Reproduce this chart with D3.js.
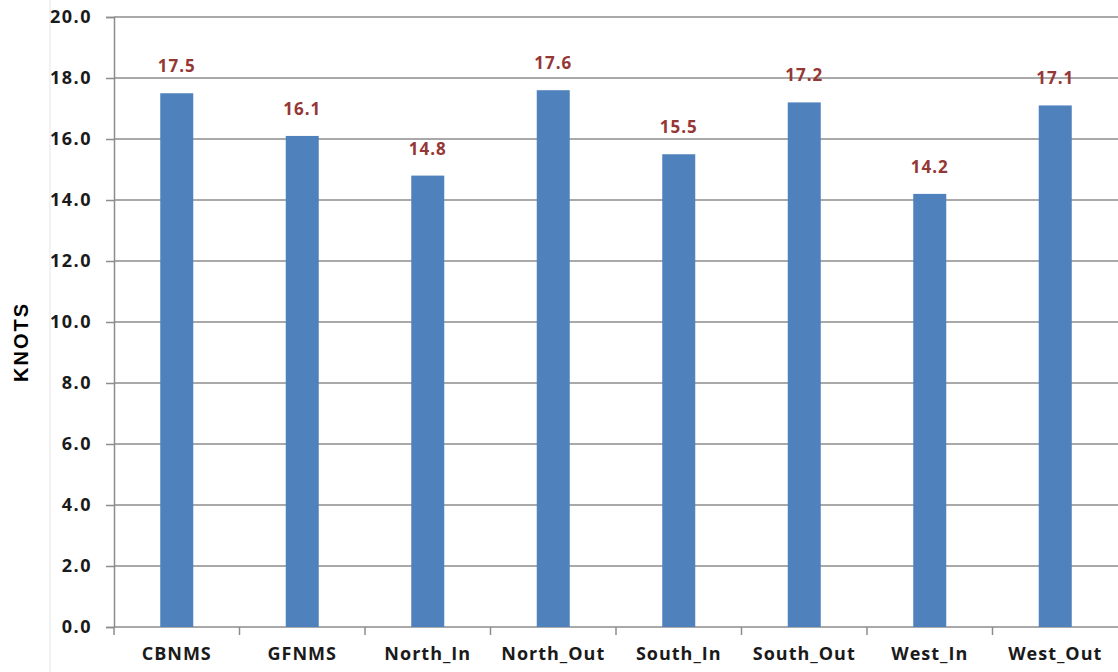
<!DOCTYPE html>
<html>
<head>
<meta charset="utf-8">
<script src="https://cdn.jsdelivr.net/npm/d3@7"></script>
<style>
  body { margin: 0; background: #fff; }
</style>
</head>
<body>
<div class="chart"></div>
<script>
const categories = ["CBNMS", "GFNMS", "North_In", "North_Out", "South_In", "South_Out", "West_In", "West_Out"];
const knots = [17.5, 16.1, 14.8, 17.6, 15.5, 17.2, 14.2, 17.1];
const yTicks = [0, 2, 4, 6, 8, 10, 12, 14, 16, 18, 20];

const width = 1118,
  height = 672,
  plotLeft = 114,
  plotRight = 1118,
  plotTop = 17,
  plotBottom = 627,
  barColor = "#4f81bd",
  labelColor = "#953735",
  gridColor = "#8c8c8c",
  font = "'Open Sans', 'DejaVu Sans', sans-serif";

const svg = d3
  .select(".chart")
  .append("svg")
  .attr("width", width)
  .attr("height", height);

const xScale = d3
  .scaleBand()
  .domain(categories)
  .range([plotLeft, plotLeft + 8 * 125.5])
  .paddingInner(0)
  .paddingOuter(0);

const yScale = d3.scaleLinear().domain([0, 20]).range([plotBottom, plotTop]);

// faint outer border on the left
svg
  .append("line")
  .attr("x1", 50)
  .attr("x2", 50)
  .attr("y1", 0)
  .attr("y2", height)
  .attr("stroke", "#e6e6e6")
  .attr("stroke-width", 1);

// gridlines
svg
  .append("g")
  .selectAll("line")
  .data(yTicks)
  .enter()
  .append("line")
  .attr("x1", plotLeft)
  .attr("x2", plotRight)
  .attr("y1", (d) => yScale(d))
  .attr("y2", (d) => yScale(d))
  .attr("stroke", gridColor)
  .attr("stroke-width", 1.5);

// y axis
const yAxis = d3
  .axisLeft(yScale)
  .tickValues(yTicks)
  .tickFormat(d3.format(".1f"))
  .tickSize(8)
  .tickPadding(14);

const yG = svg
  .append("g")
  .attr("transform", `translate(${plotLeft}, 0)`)
  .call(yAxis);
yG.select(".domain").attr("stroke", gridColor).attr("stroke-width", 1.5);
yG.selectAll(".tick line").attr("stroke", gridColor).attr("stroke-width", 1.5);
yG.selectAll("text")
  .style("font", `bold 18px ${font}`)
  .style("letter-spacing", "1.5px")
  .attr("fill", "#1a1a1a");

// x axis
const xAxis = d3.axisBottom(xScale).tickSize(0).tickPadding(20);
const xG = svg
  .append("g")
  .attr("transform", `translate(0, ${plotBottom})`)
  .call(xAxis);
xG.select(".domain").remove();
xG.selectAll("text")
  .style("font", `bold 18px ${font}`)
  .style("letter-spacing", "1px")
  .attr("fill", "#1a1a1a");

// category separator ticks
svg
  .append("g")
  .selectAll("line")
  .data(categories)
  .enter()
  .append("line")
  .attr("x1", (d) => xScale(d))
  .attr("x2", (d) => xScale(d))
  .attr("y1", plotBottom)
  .attr("y2", plotBottom + 8)
  .attr("stroke", gridColor)
  .attr("stroke-width", 1.5);

// bars
const barWidth = 33;
svg
  .append("g")
  .selectAll("rect")
  .data(knots)
  .enter()
  .append("rect")
  .attr("x", (d, i) => xScale(categories[i]) + xScale.bandwidth() / 2 - barWidth / 2)
  .attr("y", (d) => yScale(d))
  .attr("width", barWidth)
  .attr("height", (d) => plotBottom - yScale(d))
  .attr("fill", barColor);

// value labels
svg
  .append("g")
  .selectAll("text")
  .data(knots)
  .enter()
  .append("text")
  .attr("x", (d, i) => xScale(categories[i]) + xScale.bandwidth() / 2)
  .attr("y", (d) => yScale(d) - 21)
  .attr("text-anchor", "middle")
  .attr("fill", labelColor)
  .style("font", `bold 17px ${font}`)
  .style("letter-spacing", "1px")
  .text((d) => d3.format(".1f")(d));

// axis title
svg
  .append("text")
  .attr("transform", "translate(28, 342) rotate(-90)")
  .attr("text-anchor", "middle")
  .style("font", "bold 20px 'Liberation Sans', Arial, sans-serif")
  .style("letter-spacing", "2px")
  .attr("fill", "#000")
  .text("KNOTS");
</script>
</body>
</html>
